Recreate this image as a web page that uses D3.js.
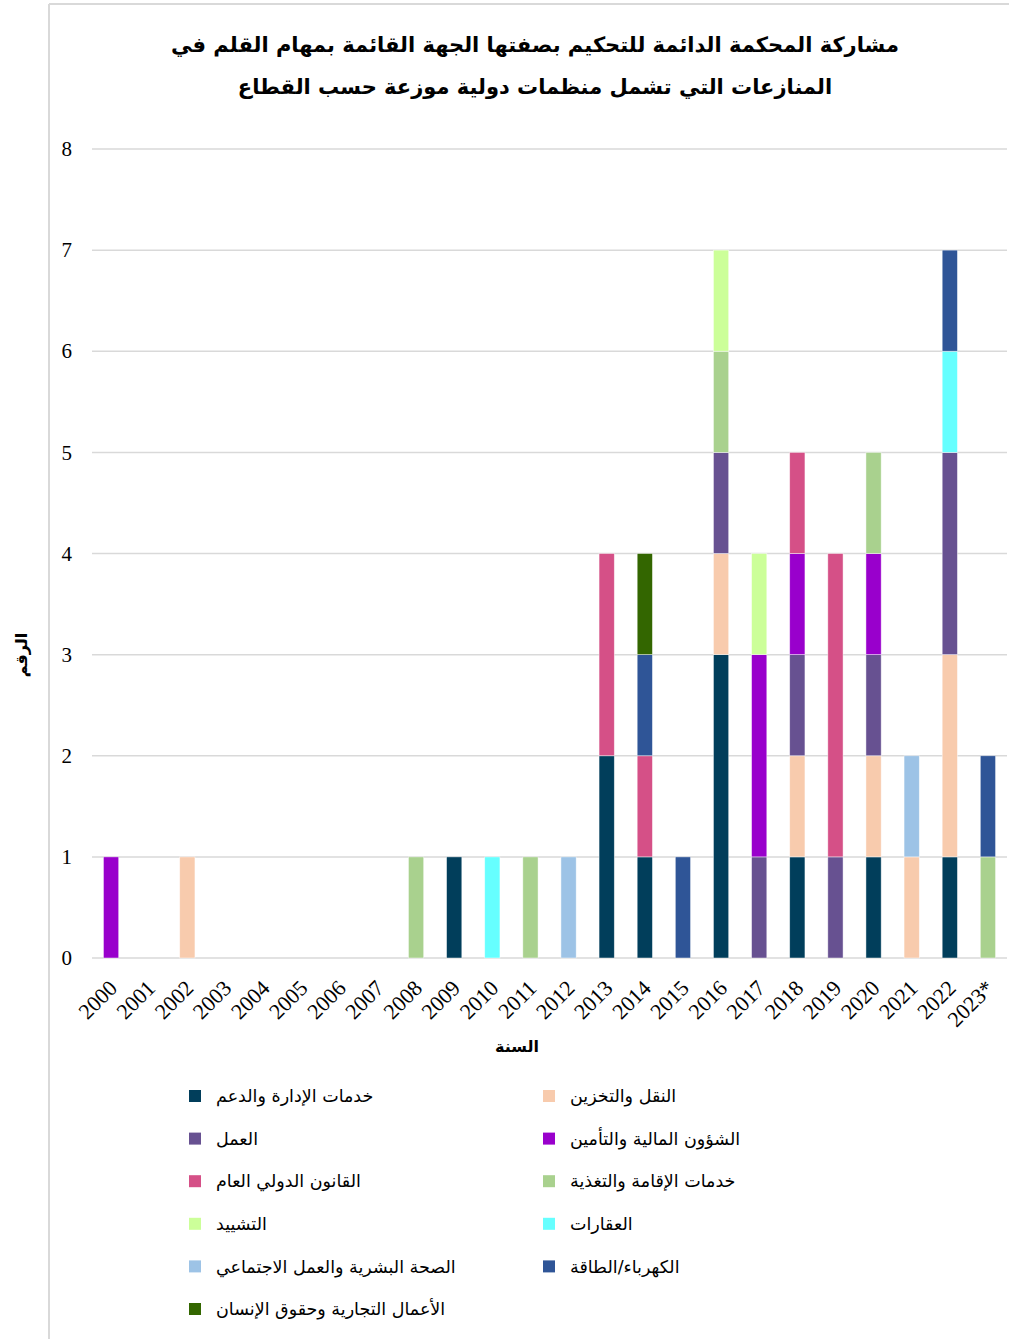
<!DOCTYPE html>
<html>
<head>
<meta charset="utf-8">
<script src="https://cdn.jsdelivr.net/npm/d3@7"></script>
<style>
  body { margin: 0; background: #fff; }
  svg { display: block; }
</style>
</head>
<body>
<div id="draw"></div>
<script>
let W = 1009, H = 1339;

// data
let years = ['2000','2001','2002','2003','2004','2005','2006','2007','2008','2009','2010','2011',
  '2012','2013','2014','2015','2016','2017','2018','2019','2020','2021','2022','2023*'];
let sectors = [
  'خدمات الإدارة والدعم',
  'النقل والتخزين',
  'العمل',
  'الشؤون المالية والتأمين',
  'القانون الدولي العام',
  'خدمات الإقامة والتغذية',
  'التشييد',
  'العقارات',
  'الصحة البشرية والعمل الاجتماعي',
  'الكهرباء/الطاقة',
  'الأعمال التجارية وحقوق الإنسان'
];
let colors = ['#013e5b','#f8cbad','#675191','#9900cc','#d55087','#a9d18e','#ccff99','#66ffff','#9dc3e6','#2f5597','#336600'];
// one array per sector, values per year (same order as years)
let admin     = [0,0,0,0,0,0,0,0,0,1,0,0,0,2,1,0,3,0,1,0,1,0,1,0];
let transport = [0,0,1,0,0,0,0,0,0,0,0,0,0,0,0,0,1,0,1,0,1,1,2,0];
let labour    = [0,0,0,0,0,0,0,0,0,0,0,0,0,0,0,0,1,1,1,1,1,0,2,0];
let finance   = [1,0,0,0,0,0,0,0,0,0,0,0,0,0,0,0,0,2,1,0,1,0,0,0];
let intlLaw   = [0,0,0,0,0,0,0,0,0,0,0,0,0,2,1,0,0,0,1,3,0,0,0,0];
let accomm    = [0,0,0,0,0,0,0,0,1,0,0,1,0,0,0,0,1,0,0,0,1,0,0,1];
let construct = [0,0,0,0,0,0,0,0,0,0,0,0,0,0,0,0,1,1,0,0,0,0,0,0];
let realEst   = [0,0,0,0,0,0,0,0,0,0,1,0,0,0,0,0,0,0,0,0,0,0,1,0];
let health    = [0,0,0,0,0,0,0,0,0,0,0,0,1,0,0,0,0,0,0,0,0,1,0,0];
let energy    = [0,0,0,0,0,0,0,0,0,0,0,0,0,0,1,1,0,0,0,0,0,0,1,1];
let business  = [0,0,0,0,0,0,0,0,0,0,0,0,0,0,1,0,0,0,0,0,0,0,0,0];
let yTicks = [0,1,2,3,4,5,6,7,8];
let title = ['مشاركة المحكمة الدائمة للتحكيم بصفتها الجهة القائمة بمهام القلم في',
             'المنازعات التي تشمل منظمات دولية موزعة حسب القطاع'];
let xTitle = 'السنة';
let yTitle = 'الرقم';

let series = [admin, transport, labour, finance, intlLaw, accomm, construct, realEst, health, energy, business];

let svg = d3.select('#draw').append('svg').attr('width', W).attr('height', H);

// outer frame (top and left edges visible)
svg.append('line').attr('x1', 49).attr('y1', 4).attr('x2', W).attr('y2', 4)
  .attr('stroke', '#d9d9d9').attr('stroke-width', 2);
svg.append('line').attr('x1', 49).attr('y1', 4).attr('x2', 49).attr('y2', H)
  .attr('stroke', '#d9d9d9').attr('stroke-width', 2);

// title
svg.append('g').selectAll('text').data(title).join('text')
  .attr('x', 535).attr('y', (d, i) => 52 + i * 42)
  .attr('text-anchor', 'middle')
  .attr('font-family', 'DejaVu Sans, sans-serif')
  .attr('font-weight', 'bold').attr('font-size', 21)
  .attr('fill', '#000')
  .text(d => d);

let x = d3.scaleBand().domain(years).range([92, 1007]).paddingInner(0.6).paddingOuter(0.3);
let y = d3.scaleLinear().domain([0, 8]).range([958, 149]);

// gridlines
svg.append('g').selectAll('line').data(yTicks).join('line')
  .attr('x1', 92).attr('x2', 1007)
  .attr('y1', d => y(d)).attr('y2', d => y(d))
  .attr('stroke', '#d9d9d9').attr('stroke-width', 1.5);

// y axis labels
let yAxis = svg.append('g').attr('transform', 'translate(80,0)')
  .call(d3.axisLeft(y).tickValues(yTicks).tickSize(0).tickPadding(8).tickFormat(d3.format('d')));
yAxis.select('.domain').remove();
yAxis.selectAll('text').attr('font-family', 'Liberation Serif, serif').attr('font-size', 21).attr('fill', '#000');

// x axis labels
let xAxis = svg.append('g').attr('transform', 'translate(0,958)')
  .call(d3.axisBottom(x).tickSize(0).tickPadding(0));
xAxis.select('.domain').remove();
xAxis.selectAll('text')
  .attr('font-family', 'Liberation Serif, serif').attr('font-size', 22).attr('fill', '#000')
  .attr('text-anchor', 'end')
  .attr('transform', 'translate(2,26) rotate(-45)')
  .attr('dy', '0.35em');

// stacked bars
let table = years.map((yr, i) => {
  let row = {year: yr};
  series.forEach((s, k) => { row[k] = s[i]; });
  return row;
});
let stack = d3.stack().keys(d3.range(series.length))(table);

svg.append('g').selectAll('g').data(stack).join('g')
  .attr('fill', (d, k) => colors[k])
  .selectAll('rect').data(d => d.filter(p => p[1] > p[0])).join('rect')
  .attr('x', d => x(d.data.year))
  .attr('width', x.bandwidth())
  .attr('y', d => y(d[1]))
  .attr('height', d => y(d[0]) - y(d[1]))
  .attr('stroke', 'rgba(255,255,255,0.6)').attr('stroke-width', 0.75);

// axis titles
svg.append('text').attr('x', 517).attr('y', 1052)
  .attr('text-anchor', 'middle')
  .attr('font-family', 'DejaVu Sans, sans-serif').attr('font-weight', 'bold').attr('font-size', 16)
  .text(xTitle);
svg.append('text').attr('transform', 'translate(27,655) rotate(-90)')
  .attr('text-anchor', 'middle')
  .attr('font-family', 'DejaVu Sans, sans-serif').attr('font-weight', 'bold').attr('font-size', 16)
  .text(yTitle);

// legend, two columns
let legend = svg.append('g').selectAll('g').data(sectors).join('g')
  .attr('transform', (d, i) => 'translate(' + (i % 2 === 0 ? 189 : 543) + ',' + (1096 + Math.floor(i / 2) * 42.6) + ')');
legend.append('rect').attr('x', 0).attr('y', -6).attr('width', 12).attr('height', 12)
  .attr('fill', (d, i) => colors[i]);
legend.append('text').attr('x', 27).attr('y', 0).attr('dy', '0.35em')
  .attr('text-anchor', 'start')
  .attr('font-family', 'DejaVu Sans, sans-serif').attr('font-size', 17.5).attr('fill', '#000')
  .text(d => d);
</script>
</body>
</html>
